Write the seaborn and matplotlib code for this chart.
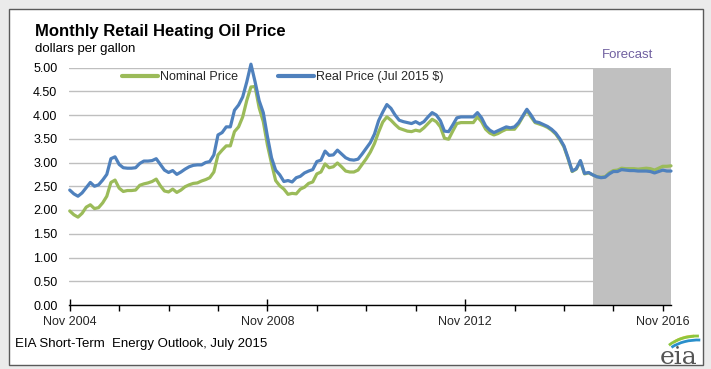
import matplotlib
matplotlib.use("Agg")
import matplotlib.pyplot as plt
import seaborn as sns
import pandas as pd
from matplotlib.patches import Rectangle, Arc
from matplotlib.lines import Line2D

# monthly prices, Nov 2004 onwards (dollars per gallon)
nominal = [1.98, 1.90, 1.85, 1.93, 2.06, 2.11, 2.03, 2.05, 2.15, 2.29,
           2.58, 2.63, 2.46, 2.39, 2.41, 2.41, 2.42, 2.52, 2.55, 2.57,
           2.60, 2.65, 2.51, 2.40, 2.38, 2.44, 2.37, 2.42, 2.49, 2.53,
           2.56, 2.57, 2.61, 2.64, 2.68, 2.80, 3.16, 3.26, 3.35, 3.35,
           3.65, 3.75, 3.96, 4.31, 4.59, 4.60, 4.15, 3.86, 3.37, 2.98,
           2.62, 2.51, 2.44, 2.33, 2.35, 2.34, 2.44, 2.48, 2.56, 2.59,
           2.76, 2.80, 2.97, 2.89, 2.91, 2.99, 2.91, 2.82, 2.80, 2.80,
           2.84, 2.96, 3.08, 3.22, 3.40, 3.64, 3.85, 3.96, 3.89, 3.80,
           3.72, 3.69, 3.66, 3.65, 3.68, 3.66, 3.73, 3.82, 3.91, 3.86,
           3.75, 3.51, 3.49, 3.66, 3.82, 3.84, 3.84, 3.84, 3.84, 3.96,
           3.86, 3.70, 3.62, 3.58, 3.61, 3.66, 3.70, 3.70, 3.70, 3.81,
           3.96, 4.10, 3.96, 3.84, 3.81, 3.78, 3.74, 3.68, 3.60, 3.48,
           3.33, 3.08, 2.81, 2.86, 3.03, 2.76, 2.78, 2.74, 2.70, 2.69,
           2.70, 2.78, 2.83, 2.84, 2.88, 2.87, 2.87, 2.87, 2.86, 2.87,
           2.88, 2.87, 2.84, 2.88, 2.92, 2.92, 2.93]

real = [2.42, 2.34, 2.29, 2.36, 2.47, 2.58, 2.50, 2.53, 2.63, 2.75,
        3.08, 3.12, 2.96, 2.89, 2.88, 2.88, 2.89, 2.98, 3.03, 3.03,
        3.04, 3.08, 2.96, 2.84, 2.79, 2.83, 2.75, 2.80, 2.86, 2.91,
        2.94, 2.95, 2.95, 3.00, 3.02, 3.16, 3.58, 3.63, 3.75, 3.75,
        4.10, 4.21, 4.38, 4.70, 5.07, 4.70, 4.30, 4.05, 3.55, 3.10,
        2.84, 2.74, 2.60, 2.62, 2.59, 2.68, 2.71, 2.78, 2.82, 2.85,
        3.02, 3.05, 3.24, 3.15, 3.16, 3.26, 3.18, 3.10, 3.06, 3.05,
        3.07, 3.18, 3.30, 3.42, 3.60, 3.88, 4.06, 4.22, 4.14, 4.00,
        3.89, 3.86, 3.84, 3.82, 3.86, 3.81, 3.86, 3.96, 4.05, 4.00,
        3.88, 3.66, 3.65, 3.79, 3.94, 3.96, 3.96, 3.96, 3.96, 4.05,
        3.94, 3.77, 3.68, 3.63, 3.67, 3.71, 3.75, 3.73, 3.75, 3.84,
        3.98, 4.12, 4.00, 3.86, 3.84, 3.80, 3.76, 3.70, 3.62, 3.50,
        3.35, 3.10, 2.82, 2.87, 3.04, 2.77, 2.79, 2.74, 2.70, 2.68,
        2.69, 2.76, 2.81, 2.81, 2.85, 2.84, 2.83, 2.83, 2.82, 2.82,
        2.82, 2.81, 2.78, 2.81, 2.84, 2.82, 2.82]

series_names = ["Nominal Price", "Real Price (Jul 2015 $)"]
series_colors = ["#9BBB59", "#4F81BD"]
tick_pos = [0, 48, 96, 144]
tick_labels = ["Nov 2004", "Nov 2008", "Nov 2012", "Nov 2016"]
minor_pos = [12, 24, 36, 60, 72, 84, 108, 120, 132]
yticks = [0.0, 0.5, 1.0, 1.5, 2.0, 2.5, 3.0, 3.5, 4.0, 4.5, 5.0]
forecast_start = 127


def build_frame():
    '''
    Puts the two price series into one long dataframe for seaborn.
    '''
    df = pd.DataFrame({'month': range(len(nominal)),
                       series_names[0]: nominal,
                       series_names[1]: real})
    return df.melt(id_vars='month', var_name='series', value_name='price')


sns.set_style("white")
plt.rcParams['font.family'] = ['Liberation Sans', 'DejaVu Sans']

fig = plt.figure(figsize=(7.11, 3.69), dpi=100, facecolor='#ebebeb')
W, H = 711, 369
# white chart panel inside the window-like frame
fig.patches.append(Rectangle((9 / W, 1 - 365 / H), 694 / W, 356 / H,
                             transform=fig.transFigure, facecolor='white',
                             edgecolor='#5a5a5a', lw=1, zorder=-5))

ax = fig.add_axes([68.5 / W, 1 - 305 / H, 602.5 / W, 237.5 / H])
ax.set_facecolor('none')

df = build_frame()
sns.lineplot(data=df, x='month', y='price', hue='series',
             palette=series_colors, linewidth=2.3, legend=False, ax=ax,
             zorder=3, clip_on=False)

ax.axvspan(forecast_start, len(nominal) - 1, color='#C0C0C0', lw=0, zorder=1)

ax.set_xlim(-0.3, len(nominal) - 1)
ax.set_ylim(0, 5)
ax.set_yticks(yticks)
ax.set_yticklabels([f"{v:.2f}" for v in yticks])
ax.set_xticks(tick_pos)
ax.set_xticklabels(tick_labels)
ax.set_xticks(minor_pos, minor=True)
ax.grid(axis='y', color='#BFBFBF', lw=1, zorder=0.5)
ax.set_axisbelow(True)
for s in ['left', 'right', 'top']:
    ax.spines[s].set_visible(False)
ax.spines['bottom'].set_color('black')
ax.spines['bottom'].set_linewidth(1)
ax.spines['bottom'].set_zorder(4)
ax.tick_params(axis='y', length=0, pad=8, labelsize=9, labelcolor='black')
ax.tick_params(axis='x', which='major', direction='inout', length=8,
               width=1, pad=4, labelsize=9, color='black', bottom=True)
ax.tick_params(axis='x', which='minor', direction='out', length=4,
               width=1, color='black', bottom=True)
ax.set_xlabel('')
ax.set_ylabel('')

handles = [Line2D([], [], color=c, lw=3) for c in series_colors]
fig.legend(handles, series_names, loc='center left',
           bbox_to_anchor=(122 / W, 1 - 77 / H), ncol=2, frameon=False,
           fontsize=9, handlelength=2.9, handletextpad=0.15,
           columnspacing=3.2, borderpad=0, borderaxespad=0)

fig.text(35 / W, 1 - 36 / H, "Monthly Retail Heating Oil Price",
         fontsize=12, fontweight='bold', color='black')
fig.text(35 / W, 1 - 52 / H, "dollars per gallon", fontsize=9.5, color='black')
fig.text(628 / W, 1 - 55 / H, "Forecast", fontsize=9.5, color='#7060A0',
         ha='center', va='center')
fig.text(15 / W, 1 - 344 / H, "EIA Short-Term  Energy Outlook, July 2015",
         fontsize=9.5, color='black', va='center')

# eia logo, drawn in pixel units (y measured up from the bottom edge)
logo = fig.add_axes([650 / W, 1 / H, 56 / W, 38 / H])
logo.set_xlim(650, 706)
logo.set_ylim(1, 39)
logo.axis('off')
logo.text(679, 5, "eia", fontsize=18, family='DejaVu Serif',
          color='#555555', ha='center', va='baseline', clip_on=False)
for (cx, cy, w, h, t1, t2, c) in [(696, 11, 64, 44, 95, 145, '#F2C230'),
                                  (698, 7, 76, 52, 88, 150, '#8DC63F'),
                                  (698, 3, 76, 52, 85, 145, '#2A8FCB')]:
    logo.add_patch(Arc((cx, cy), w, h, theta1=t1, theta2=t2, color=c, lw=2))

fig.savefig("out.png", dpi=100, facecolor=fig.get_facecolor())
